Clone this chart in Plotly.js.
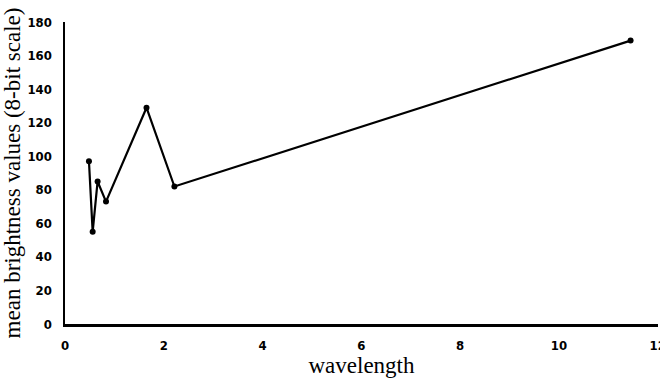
<!DOCTYPE html>
<html>
<head>
<meta charset="utf-8">
<script src="https://cdn.plot.ly/plotly-3.0.1.min.js"></script>
<style>html,body{margin:0;padding:0;background:#fff;}#chart{width:660px;height:384px;}</style>
</head>
<body>
<div id="chart"></div>
<script>
// Landsat TM band centre wavelengths (µm) and mean brightness values
const wavelength = [0.485, 0.56, 0.66, 0.83, 1.65, 2.215, 11.45];
const brightness = [97, 55, 85, 73, 129, 82, 169];
const xTicks = [0, 2, 4, 6, 8, 10, 12];
const yTicks = [0, 20, 40, 60, 80, 100, 120, 140, 160, 180];

const tickFont = {family: '"DejaVu Sans Condensed", "DejaVu Sans", sans-serif', size: 13, color: '#000', weight: 'bold'};
const titleFont = {family: '"Liberation Serif", "Times New Roman", serif', size: 23, color: '#000'};

Plotly.newPlot('chart', [{
  x: wavelength,
  y: brightness,
  type: 'scatter',
  mode: 'lines+markers',
  line: {color: '#000', width: 2.2},
  marker: {color: '#000', size: 6},
  showlegend: false,
  cliponaxis: false
}], {
  width: 660, height: 384,
  margin: {l: 65, r: 2, t: 22, b: 60},
  paper_bgcolor: '#fff', plot_bgcolor: '#fff',
  xaxis: {
    range: [0, 12.005], tickvals: xTicks, ticktext: xTicks.map(String),
    showgrid: false, zeroline: false, showline: true, linecolor: '#000', linewidth: 2.5,
    ticks: '', tickfont: tickFont, ticklabelstandoff: 8, ticklabeloverflow: 'allow',
    title: {text: 'wavelength', font: titleFont, standoff: 5}
  },
  yaxis: {
    range: [0, 180.1], tickvals: yTicks, ticktext: yTicks.map(String),
    showgrid: false, zeroline: false, showline: true, linecolor: '#000', linewidth: 2.5,
    ticks: '', tickfont: tickFont, ticklabelstandoff: 8,
    title: {text: 'mean brightness values (8-bit scale)', font: titleFont, standoff: 3}
  }
}, {displayModeBar: false, staticPlot: true});
</script>
</body>
</html>
